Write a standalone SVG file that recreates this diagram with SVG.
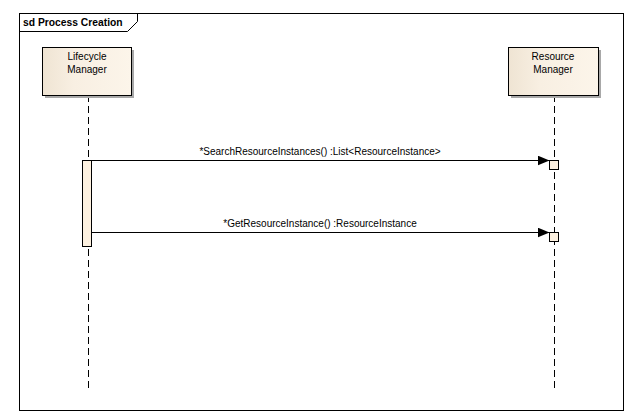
<svg xmlns="http://www.w3.org/2000/svg" width="640" height="419" viewBox="0 0 640 419">
<defs>
<linearGradient id="g" x1="0" y1="0" x2="1" y2="0">
<stop offset="0" stop-color="#EFE4D3"/>
<stop offset="0.35" stop-color="#F8EFE2"/>
<stop offset="1" stop-color="#FCF5EA"/>
</linearGradient>
<marker id="arr" markerWidth="13" markerHeight="10" refX="12" refY="5" orient="auto" markerUnits="userSpaceOnUse">
<path d="M0,0 L12,5 L0,10 Z" fill="#000"/>
</marker>
</defs>
<style>
text{font-family:"Liberation Sans",Arial,sans-serif;font-size:10px;fill:#000}
.t{font-weight:bold;font-size:10.3px}
.box{fill:url(#g);stroke:#000;stroke-width:1}
.sh{fill:#a8a8a8}
.life{stroke:#000;stroke-width:1;stroke-dasharray:7,4}
.act{fill:#FDF1E0;stroke:#000;stroke-width:1}
.msg{stroke:#000;stroke-width:1;fill:none;marker-end:url(#arr)}
</style>
<rect width="640" height="419" fill="#fff"/>
<g id="frame">
<rect x="19.5" y="13.5" width="604" height="397" fill="none" stroke="#000"/>
<path d="M19.5,31.5 H127.5 L137.5,21.5 V13.5" fill="none" stroke="#000"/>
<text class="t" x="23" y="26">sd Process Creation</text>
</g>
<g id="lifecycle">
<line class="life" x1="88.5" y1="95" x2="88.5" y2="388"/>
<rect class="sh" x="45" y="50" width="89" height="48"/>
<rect class="box" x="42.5" y="47.5" width="89" height="48"/>
<text x="87" y="60" text-anchor="middle">Lifecycle</text>
<text x="87" y="73" text-anchor="middle">Manager</text>
<rect class="act" x="82.5" y="160.5" width="9" height="86"/>
</g>
<g id="resource">
<line class="life" x1="554.5" y1="95" x2="554.5" y2="388"/>
<rect class="sh" x="511" y="50" width="90" height="48"/>
<rect class="box" x="508.5" y="47.5" width="90" height="48"/>
<text x="553" y="60" text-anchor="middle">Resource</text>
<text x="553" y="73" text-anchor="middle">Manager</text>
<rect class="act" x="549.5" y="160.5" width="9" height="9"/>
<rect class="act" x="549.5" y="232.5" width="9" height="9"/>
</g>
<g id="connectors">
<line class="msg" x1="91.5" y1="160.5" x2="549.5" y2="160.5"/>
<text x="320" y="155" text-anchor="middle">*SearchResourceInstances() :List&lt;ResourceInstance&gt;</text>
<line class="msg" x1="91.5" y1="232.5" x2="549.5" y2="232.5"/>
<text x="320" y="227" text-anchor="middle">*GetResourceInstance() :ResourceInstance</text>
</g>
</svg>
